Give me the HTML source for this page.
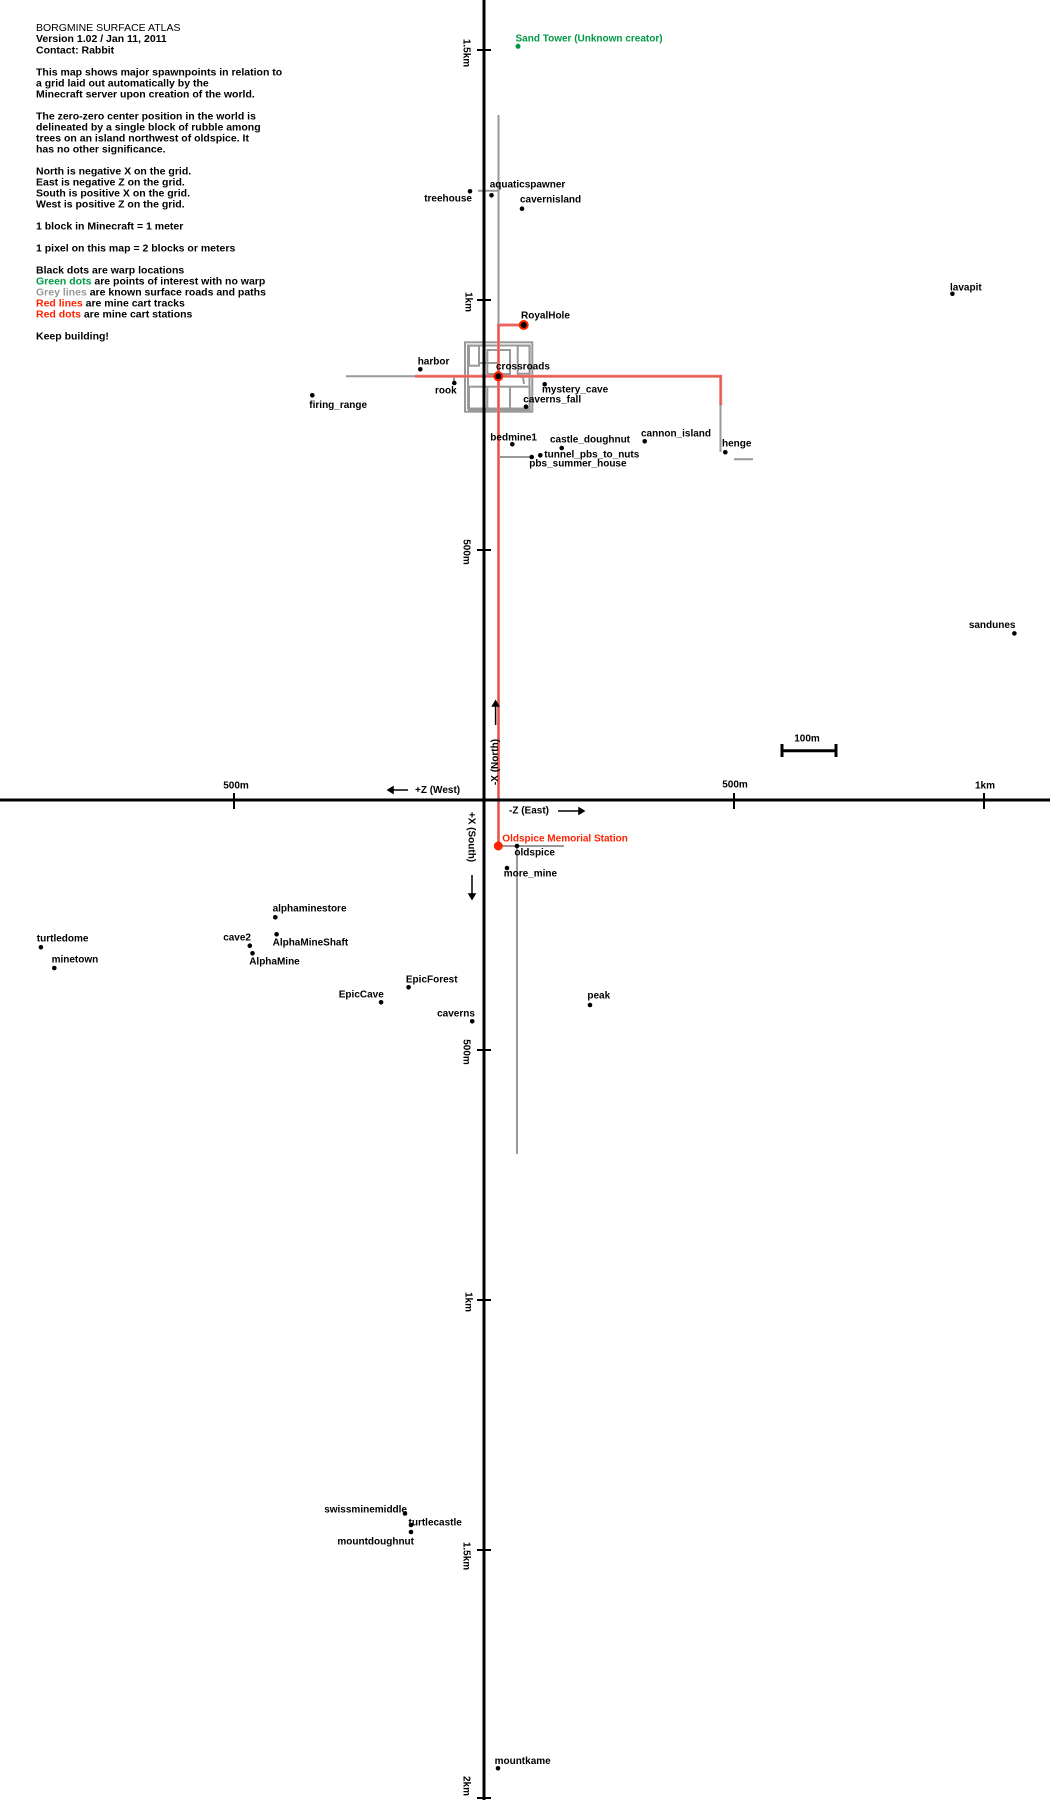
<!DOCTYPE html>
<html><head><meta charset="utf-8"><style>
html,body{margin:0;padding:0;background:#fff;}
svg{display:block}
text{font-family:"Liberation Sans",sans-serif;font-weight:bold;font-size:10px;fill:#000;dominant-baseline:middle}
.i{font-size:10.5px}
</style></head><body>
<svg width="1050" height="1800" viewBox="0 0 1050 1800" xmlns="http://www.w3.org/2000/svg">
<g class="i">
<text class="i" x="36" y="28" style="font-weight:normal">BORGMINE SURFACE ATLAS</text>
<text class="i" x="36" y="39">Version 1.02 / Jan 11, 2011</text>
<text class="i" x="36" y="50.5">Contact: Rabbit</text>
<text class="i" x="36" y="72.5">This map shows major spawnpoints in relation to</text>
<text class="i" x="36" y="83.5">a grid laid out automatically by the</text>
<text class="i" x="36" y="94.5">Minecraft server upon creation of the world.</text>
<text class="i" x="36" y="116.5">The zero-zero center position in the world is</text>
<text class="i" x="36" y="127.5">delineated by a single block of rubble among</text>
<text class="i" x="36" y="138.5">trees on an island northwest of oldspice. It</text>
<text class="i" x="36" y="149.5">has no other significance.</text>
<text class="i" x="36" y="171.5">North is negative X on the grid.</text>
<text class="i" x="36" y="182.5">East is negative Z on the grid.</text>
<text class="i" x="36" y="193.5">South is positive X on the grid.</text>
<text class="i" x="36" y="204.5">West is positive Z on the grid.</text>
<text class="i" x="36" y="226.5">1 block in Minecraft = 1 meter</text>
<text class="i" x="36" y="248.5">1 pixel on this map = 2 blocks or meters</text>
<text class="i" x="36" y="270.5">Black dots are warp locations</text>
<text class="i" x="36" y="281.5"><tspan fill="#009a44">Green dots</tspan> are points of interest with no warp</text>
<text class="i" x="36" y="292.5"><tspan fill="#999">Grey lines</tspan> are known surface roads and paths</text>
<text class="i" x="36" y="303.5"><tspan fill="#ff2200">Red lines</tspan> are mine cart tracks</text>
<text class="i" x="36" y="314.5"><tspan fill="#ff2200">Red dots</tspan> are mine cart stations</text>
<text class="i" x="36" y="336.5">Keep building!</text>
</g>

<g stroke="#999" stroke-width="2" fill="none">
<line x1="498.5" y1="115" x2="498.5" y2="846"/>
<line x1="517" y1="846" x2="517" y2="1154"/>
<line x1="498" y1="846" x2="564" y2="846"/>
<line x1="478" y1="190.7" x2="498.5" y2="190.7"/>
<line x1="346" y1="376.3" x2="415" y2="376.3"/>
<line x1="454" y1="376" x2="454" y2="383"/>
<line x1="720.5" y1="405" x2="720.5" y2="452"/>
<line x1="734" y1="459.3" x2="753" y2="459.3"/>
<line x1="498" y1="457" x2="531" y2="457"/>
<rect x="465" y="342.3" width="67.3" height="69.4"/>
<rect x="468" y="345.5" width="61.5" height="63"/>
<rect x="469" y="345.7" width="10" height="20"/>
<rect x="487.3" y="350" width="22.7" height="24"/>
<rect x="517.7" y="345.7" width="12" height="28"/>
<line x1="479" y1="363" x2="498" y2="363"/>
<path d="M517.7 374 L520 377 L523 377 L524 384"/>
<rect x="469" y="386.7" width="60.7" height="23.3"/>
<line x1="487.3" y1="386.7" x2="487.3" y2="410"/>
<line x1="510" y1="386.7" x2="510" y2="410"/>
</g>

<g stroke="#ee7770" stroke-width="3" fill="none">
<path d="M523.7 325 L498.5 325 L498.5 846"/>
<path d="M415 376.3 L720.7 376.3 L720.7 405.3"/>
</g>
<g stroke="#d94a44" stroke-width="1" fill="none" opacity="0.7">
<path d="M523.7 325 L498.5 325 L498.5 846"/>
<path d="M415 376.3 L720.7 376.3 L720.7 405.3"/>
</g>

<g stroke="#000" stroke-width="3">
<line x1="484" y1="0" x2="484" y2="1800"/>
<line x1="0" y1="800" x2="1050" y2="800"/>
</g>
<g stroke="#000" stroke-width="2">
<line x1="477" y1="50" x2="491" y2="50"/>
<line x1="477" y1="300" x2="491" y2="300"/>
<line x1="477" y1="550" x2="491" y2="550"/>
<line x1="477" y1="1050" x2="491" y2="1050"/>
<line x1="477" y1="1300" x2="491" y2="1300"/>
<line x1="477" y1="1550" x2="491" y2="1550"/>
<line x1="477" y1="1798" x2="491" y2="1798"/>
<line x1="234" y1="793" x2="234" y2="809"/>
<line x1="734" y1="793" x2="734" y2="809"/>
<line x1="984" y1="793" x2="984" y2="809"/>
</g>
<text x="466" y="53" text-anchor="middle" transform="rotate(90 466 53)">1.5km</text>
<text x="468" y="302" text-anchor="middle" transform="rotate(90 468 302)">1km</text>
<text x="466" y="552" text-anchor="middle" transform="rotate(90 466 552)">500m</text>
<text x="466" y="1052" text-anchor="middle" transform="rotate(90 466 1052)">500m</text>
<text x="468" y="1302" text-anchor="middle" transform="rotate(90 468 1302)">1km</text>
<text x="466" y="1556" text-anchor="middle" transform="rotate(90 466 1556)">1.5km</text>
<text x="466" y="1786" text-anchor="middle" transform="rotate(90 466 1786)">2km</text>
<text x="236" y="786" text-anchor="middle">500m</text>
<text x="735" y="785" text-anchor="middle">500m</text>
<text x="985" y="786" text-anchor="middle">1km</text>
<text x="415" y="790.5">+Z (West)</text>
<text x="509" y="811">-Z (East)</text>
<text x="495.5" y="762" text-anchor="middle" transform="rotate(-90 495.5 762)">-X (North)</text>
<text x="471" y="837" text-anchor="middle" transform="rotate(90 471 837)">+X (South)</text>
<g stroke="#000" stroke-width="1.5" fill="#000">
<line x1="390" y1="790" x2="408" y2="790"/><path d="M388 790 l5 -3 v6z"/>
<line x1="558" y1="811" x2="581" y2="811"/><path d="M584 811 l-5 -3 v6z"/>
<line x1="495.6" y1="705" x2="495.6" y2="725"/><path d="M495.6 701 l-3 5 h6z"/>
<line x1="472" y1="875" x2="472" y2="895"/><path d="M472 899 l-3 -5 h6z"/>
</g>
<g stroke="#000" stroke-width="3">
<line x1="782" y1="750.7" x2="836" y2="750.7"/>
<line x1="782" y1="744" x2="782" y2="757"/>
<line x1="836" y1="744" x2="836" y2="757"/>
</g>
<text x="807" y="739" text-anchor="middle">100m</text>

<circle cx="523.7" cy="325" r="4" fill="#000" stroke="#ff2200" stroke-width="2"/>
<circle cx="498.3" cy="376.3" r="4" fill="#000" stroke="#ff2200" stroke-width="2"/>
<circle cx="498.3" cy="846" r="4.5" fill="#ff2200"/>
<circle cx="518" cy="46.3" r="2.5" fill="#009a44"/>

<g fill="#000">
<circle cx="470" cy="191.3" r="2.3"/><circle cx="491.5" cy="195.3" r="2.3"/><circle cx="522" cy="208.7" r="2.3"/>
<circle cx="420.3" cy="369.3" r="2.3"/><circle cx="454.3" cy="383" r="2.3"/><circle cx="312.3" cy="395.3" r="2.3"/>
<circle cx="544.7" cy="384.3" r="2.3"/><circle cx="526" cy="406.7" r="2.3"/><circle cx="512.3" cy="444.3" r="2.3"/>
<circle cx="561.7" cy="448" r="2.3"/><circle cx="644.7" cy="441.3" r="2.3"/><circle cx="725.3" cy="452.3" r="2.3"/>
<circle cx="540.3" cy="455.3" r="2.3"/><circle cx="531.7" cy="457" r="2.3"/>
<circle cx="952.4" cy="293.8" r="2.3"/><circle cx="1014.4" cy="633.4" r="2.3"/>
<circle cx="517" cy="846" r="2.3"/><circle cx="507" cy="868" r="2.3"/><circle cx="275.3" cy="917.3" r="2.3"/>
<circle cx="40.9" cy="947.3" r="2.3"/><circle cx="54.3" cy="968" r="2.3"/><circle cx="249.8" cy="945.7" r="2.3"/>
<circle cx="276.6" cy="934.3" r="2.3"/><circle cx="252.5" cy="953.3" r="2.3"/><circle cx="408.6" cy="987.3" r="2.3"/>
<circle cx="381.1" cy="1002.3" r="2.3"/><circle cx="472.2" cy="1021.3" r="2.3"/><circle cx="590" cy="1005" r="2.3"/>
<circle cx="405" cy="1513.5" r="2.3"/><circle cx="411" cy="1525" r="2.3"/><circle cx="411" cy="1532" r="2.3"/>
<circle cx="498" cy="1768.3" r="2.3"/>
</g>

<text x="515.5" y="38.7" style="fill:#009a44">Sand Tower (Unknown creator)</text>
<text x="472" y="199" text-anchor="end">treehouse</text>
<text x="489.7" y="185">aquaticspawner</text>
<text x="520" y="200">cavernisland</text>
<text x="521" y="315.7">RoyalHole</text>
<text x="496" y="366.7">crossroads</text>
<text x="417.7" y="361.7">harbor</text>
<text x="456.7" y="390.7" text-anchor="end">rook</text>
<text x="309.3" y="405.3">firing_range</text>
<text x="542" y="390">mystery_cave</text>
<text x="523.3" y="399.7">caverns_fall</text>
<text x="490.3" y="437.7">bedmine1</text>
<text x="550" y="440">castle_doughnut</text>
<text x="641" y="434">cannon_island</text>
<text x="722" y="444">henge</text>
<text x="544.3" y="455">tunnel_pbs_to_nuts</text>
<text x="529.3" y="464">pbs_summer_house</text>
<text x="950" y="288">lavapit</text>
<text x="1015.5" y="625.4" text-anchor="end">sandunes</text>
<text x="502.3" y="838.7" style="fill:#ff2200">Oldspice Memorial Station</text>
<text x="514.4" y="853">oldspice</text>
<text x="503.7" y="874">more_mine</text>
<text x="272.6" y="909">alphaminestore</text>
<text x="36.8" y="938.7">turtledome</text>
<text x="51.6" y="960">minetown</text>
<text x="251" y="937.7" text-anchor="end">cave2</text>
<text x="272.6" y="942.7">AlphaMineShaft</text>
<text x="249.2" y="962">AlphaMine</text>
<text x="405.9" y="979.7">EpicForest</text>
<text x="383.8" y="994.7" text-anchor="end">EpicCave</text>
<text x="474.9" y="1014" text-anchor="end">caverns</text>
<text x="587.4" y="996">peak</text>
<text x="407" y="1510" text-anchor="end">swissminemiddle</text>
<text x="408.5" y="1522.7">turtlecastle</text>
<text x="414" y="1542" text-anchor="end">mountdoughnut</text>
<text x="494.6" y="1761.4">mountkame</text>
</svg>
</body></html>
